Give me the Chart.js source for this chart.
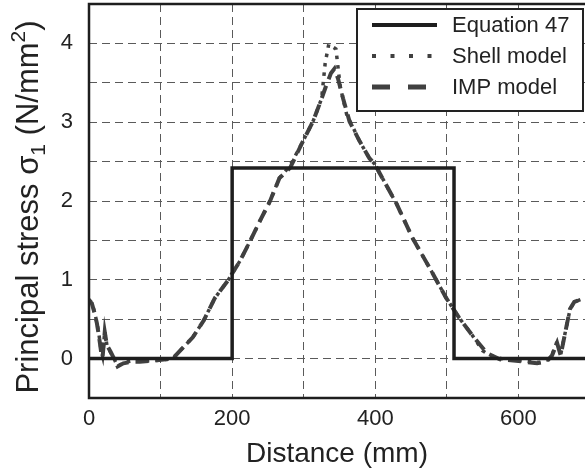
<!DOCTYPE html>
<html>
<head>
<meta charset="utf-8">
<script src="https://cdn.jsdelivr.net/npm/chart.js@4.4.1/dist/chart.umd.min.js"></script>
<style>
  body { margin: 0; background: #fff; }
</style>
</head>
<body>
<canvas id="stressChart" width="585" height="471"></canvas>
<script>
// Equation 47 (step)
var eqDist = [0, 200, 200, 510, 510, 700];
var eqStress = [0, 0, 2.42, 2.42, 0, 0];

// Shell model (dotted)
var shellDist = [0, 4, 8, 11, 14, 17, 19, 22, 25, 30, 35, 40, 48, 60, 80, 100, 117, 145, 160, 176, 194, 211, 225, 239, 253, 266, 281, 299, 313, 325, 330, 335, 345, 351, 360, 368, 378, 392, 399, 430, 452, 476, 499, 517, 536, 550, 560, 580, 610, 630, 645, 654, 659, 666, 672, 678, 690];
var shellStress = [0.75, 0.71, 0.58, 0.46, 0.3, 0.1, 0.03, 0.35, 0.17, 0.08, 0.0, -0.1, -0.05, -0.03, -0.03, -0.02, 0, 0.27, 0.48, 0.77, 0.99, 1.24, 1.49, 1.75, 2.0, 2.29, 2.45, 2.76, 3.01, 3.3, 3.75, 3.99, 3.93, 3.45, 3.1, 2.95, 2.76, 2.54, 2.47, 1.96, 1.53, 1.15, 0.77, 0.52, 0.29, 0.1, 0.04, -0.01, -0.03, -0.05, 0.0, 0.22, 0.05, 0.36, 0.62, 0.72, 0.76];

// IMP model (dashed)
var impDist = [0, 4, 8, 11, 14, 17, 19, 22, 25, 30, 35, 40, 48, 60, 71, 95, 117, 145, 160, 176, 194, 211, 225, 239, 253, 266, 281, 299, 313, 325, 332, 338, 343, 348, 355, 364, 378, 392, 399, 430, 452, 476, 499, 517, 536, 556, 574, 600, 626, 640, 647, 654, 659, 666, 672, 678, 690];
var impStress = [0.73, 0.7, 0.57, 0.45, 0.28, 0.08, 0.02, 0.34, 0.17, 0.09, 0.0, -0.1, -0.06, -0.04, -0.04, -0.02, 0, 0.27, 0.48, 0.77, 0.99, 1.24, 1.49, 1.75, 2.0, 2.29, 2.42, 2.76, 3.01, 3.3, 3.48, 3.62, 3.68, 3.55, 3.3, 3.01, 2.76, 2.54, 2.47, 1.96, 1.53, 1.15, 0.77, 0.52, 0.29, 0.07, -0.01, -0.03, -0.06, -0.03, 0.04, 0.2, 0.04, 0.36, 0.63, 0.72, 0.76];

var xGrid = [0, 100, 200, 300, 400, 500, 600];
var xTicksShown = [0, 200, 400, 600];
var yTicksShown = [0, 1, 2, 3, 4];

function pairs(xs, ys) {
    return xs.map(function (x, i) { return { x: x, y: ys[i] }; });
}

var FONT = "'Liberation Sans', Arial, Helvetica, sans-serif";
var INK = '#1e1e1e';
var GREY = '#404040';

var legendItems = [
    { label: 'Equation 47', color: INK, width: 4, dash: [] },
    { label: 'Shell model', color: GREY, width: 4, dash: [4, 14.5] },
    { label: 'IMP model', color: GREY, width: 5, dash: [18, 18] }
];

// frame, y title (with sub/superscript) and the boxed legend
var framePlugin = {
    id: 'framePlugin',
    afterDraw: function (chart) {
        var ctx = chart.ctx;
        var a = chart.chartArea;
        ctx.save();
        ctx.strokeStyle = INK;
        ctx.lineWidth = 2.5;
        ctx.setLineDash([]);
        ctx.beginPath();
        ctx.moveTo(chart.width + 5, a.top);
        ctx.lineTo(a.left, a.top);
        ctx.lineTo(a.left, a.bottom);
        ctx.lineTo(chart.width + 5, a.bottom);
        ctx.stroke();

        // y axis title
        var parts = [
            { t: 'Principal stress σ', size: 31, dy: 0 },
            { t: '1', size: 21, dy: 7 },
            { t: ' (N/mm', size: 31, dy: 0 },
            { t: '2', size: 21, dy: -13 },
            { t: ')', size: 31, dy: 0 }
        ];
        var total = 0;
        parts.forEach(function (p) {
            ctx.font = p.size + 'px ' + FONT;
            p.w = ctx.measureText(p.t).width;
            total += p.w;
        });
        ctx.translate(38, 207);
        ctx.rotate(-Math.PI / 2);
        ctx.fillStyle = '#222';
        ctx.textBaseline = 'alphabetic';
        ctx.textAlign = 'left';
        var cx = -total / 2;
        parts.forEach(function (p) {
            ctx.font = p.size + 'px ' + FONT;
            ctx.fillText(p.t, cx, p.dy);
            cx += p.w;
        });
        ctx.setTransform(1, 0, 0, 1, 0, 0);

        // legend box
        ctx.fillStyle = '#fff';
        ctx.fillRect(357, 9, 226, 102);
        ctx.lineWidth = 2;
        ctx.strokeStyle = '#222';
        ctx.strokeRect(357, 9, 226, 102);
        var rows = [25, 56, 87];
        ctx.font = '22px ' + FONT;
        ctx.textBaseline = 'middle';
        legendItems.forEach(function (it, i) {
            ctx.strokeStyle = it.color;
            ctx.lineWidth = it.width;
            ctx.setLineDash(it.dash);
            ctx.beginPath();
            ctx.moveTo(372, rows[i]);
            ctx.lineTo(437, rows[i]);
            ctx.stroke();
            ctx.setLineDash([]);
            ctx.fillStyle = '#222';
            ctx.fillText(it.label, 452, rows[i] + 1);
        });
        ctx.restore();
    }
};

var ctx = document.getElementById('stressChart').getContext('2d');
var chart = new Chart(ctx, {
    type: 'line',
    data: {
        datasets: [{
            label: 'Equation 47',
            data: pairs(eqDist, eqStress),
            borderColor: INK,
            borderWidth: 3.5,
            pointRadius: 0,
            fill: false,
            tension: 0
        }, {
            label: 'Shell model',
            data: pairs(shellDist, shellStress),
            borderColor: GREY,
            borderWidth: 3.5,
            borderDash: [3.5, 6],
            pointRadius: 0,
            fill: false,
            tension: 0
        }, {
            label: 'IMP model',
            data: pairs(impDist, impStress),
            borderColor: GREY,
            borderWidth: 4,
            borderDash: [13, 7],
            pointRadius: 0,
            fill: false,
            tension: 0
        }]
    },
    options: {
        responsive: false,
        animation: false,
        layout: { padding: { top: 4, right: 0, left: 0, bottom: 0 } },
        plugins: {
            legend: { display: false },
            tooltip: { enabled: false }
        },
        scales: {
            x: {
                type: 'linear',
                min: 0,
                max: 693,
                afterBuildTicks: function (s) {
                    s.ticks = xGrid.map(function (v) { return { value: v }; });
                },
                ticks: {
                    color: '#222',
                    font: { family: FONT, size: 22 },
                    padding: 8,
                    maxRotation: 0,
                    autoSkip: false,
                    callback: function (v) { return xTicksShown.indexOf(v) >= 0 ? String(v) : ''; }
                },
                grid: { color: '#5a5a5a', lineWidth: 1, drawTicks: false },
                border: { display: false, dash: [8, 5] },
                title: {
                    display: true,
                    text: 'Distance (mm)',
                    color: '#222',
                    font: { family: FONT, size: 28 },
                    padding: { top: 1, bottom: 0 }
                },
                afterFit: function (s) {
                    s.height = 73;
                    s.paddingLeft = 0;
                    s.paddingRight = 0;
                }
            },
            y: {
                min: -0.5,
                max: 4.5,
                ticks: {
                    stepSize: 0.5,
                    color: '#222',
                    font: { family: FONT, size: 22 },
                    padding: 16,
                    autoSkip: false,
                    callback: function (v) { return yTicksShown.indexOf(v) >= 0 ? String(v) : ''; }
                },
                grid: { color: '#5a5a5a', lineWidth: 1, drawTicks: false },
                border: { display: false, dash: [8, 5] },
                afterFit: function (s) {
                    s.width = 89;
                    s.paddingTop = 0;
                    s.paddingBottom = 0;
                }
            }
        }
    },
    plugins: [framePlugin]
});
</script>
</body>
</html>
